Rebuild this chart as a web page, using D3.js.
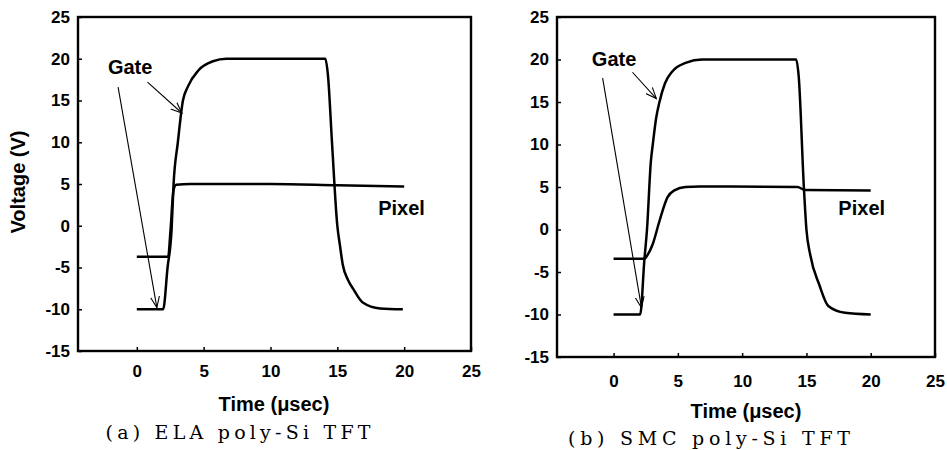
<!DOCTYPE html>
<html>
<head>
<meta charset="utf-8">
<script src="https://cdn.jsdelivr.net/npm/d3@7"></script>
<style>
  body { margin: 0; background: #fff; }
  svg { display: block; }
</style>
</head>
<body>
<svg id="chart" width="947" height="450"></svg>
<script>
// -----------------------------------------------------------------------------
// data: [time (usec), voltage (V)]

var timeTicks = [0, 5, 10, 15, 20, 25];
var voltTicks = [-15, -10, -5, 0, 5, 10, 15, 20, 25];

var elaGate = [
  [0, -10], [1.97, -10], [2.3, -5], [2.6, -0.5], [2.75, 5], [3.07, 10],
  [3.45, 15], [3.8, 16.6], [4.6, 18.6], [5.7, 19.7], [6.7, 20], [14.1, 20],
  [14.3, 18], [14.6, 10], [15.0, 0], [15.2, -2.4], [15.4, -4.6],
  [15.8, -6.5], [16.2, -7.6], [16.9, -9.2], [18.2, -9.9], [19.9, -10]
];
var elaPixel = [
  [0, -3.7], [2.35, -3.7], [2.5, -1], [2.75, 4.3], [2.95, 4.9], [4, 5],
  [10, 5], [15, 4.85], [20, 4.7]
];

var smcGate = [
  [0, -10], [2.07, -10], [2.4, -3.5], [2.6, 0], [2.9, 8], [3.05, 10],
  [3.3, 13], [3.57, 15], [4.0, 17.2], [4.57, 18.6], [5.6, 19.6], [6.9, 20],
  [14.2, 20], [14.4, 18], [14.8, 5], [15.0, 0], [15.3, -3], [16.0, -6.5],
  [16.7, -9], [18.0, -9.8], [20, -10]
];
var smcPixel = [
  [0, -3.45], [2.4, -3.45], [2.6, -3.1], [3.05, -1.7], [3.57, 1.0],
  [4.2, 3.8], [4.73, 4.6], [5.6, 5.0], [6.7, 5.05], [14.3, 5.0],
  [14.9, 4.65], [20, 4.6]
];

// labels and arrows, in data units
var elaLabels = [
  { text: 'Gate', t: -0.5, v: 19.0 },
  { text: 'Pixel', t: 19.8, v: 2.1 }
];
var elaArrows = [
  [[0.8, 17.2], [3.37, 13.5]],
  [[-1.4, 16.6], [1.5, -9.8]]
];
var smcLabels = [
  { text: 'Gate', t: 0.04, v: 20.1 },
  { text: 'Pixel', t: 19.3, v: 2.5 }
];
var smcArrows = [
  [[1.47, 18.5], [3.33, 15.4]],
  [[-0.85, 17.8], [2.17, -9.2]]
];

// -----------------------------------------------------------------------------

var svg = d3.select('#chart');

var defs = svg.append('defs');
defs.append('marker')
  .attr('id', 'arrow-head')
  .attr('viewBox', '0 0 12 10')
  .attr('refX', 11)
  .attr('refY', 5)
  .attr('markerWidth', 12)
  .attr('markerHeight', 10)
  .attr('markerUnits', 'userSpaceOnUse')
  .attr('orient', 'auto')
  .append('path')
  .attr('d', 'M0,0.5 L11,5 L0,9.5')
  .attr('fill', 'none')
  .attr('stroke', '#000')
  .attr('stroke-width', 1.1);

function plainNumber(d) { return String(d); }

function drawPanel(cfg) {
  // - - - - - - - - - - - - - - - - - - - - - - - - - - - - - - - - - - - - -

  var x = d3.scaleLinear().domain([-4.4, 25]).range([cfg.left, cfg.right]);
  var y = d3.scaleLinear().domain([-15, 25]).range([cfg.bottom, cfg.top]);

  var g = svg.append('g');

  // - - - - - - - - - - - - - - - - - - - - - - - - - - - - - - - - - - - - -

  var yAxis = g.append('g')
    .attr('transform', 'translate(' + cfg.left + ',0)')
    .call(d3.axisLeft(y).tickValues(voltTicks).tickFormat(plainNumber)
      .tickSize(-4).tickPadding(8));

  var xAxis = g.append('g')
    .attr('transform', 'translate(0,' + cfg.bottom + ')')
    .call(d3.axisBottom(x).tickValues(timeTicks).tickFormat(plainNumber)
      .tickSize(-4).tickPadding(cfg.xPad));

  [yAxis, xAxis].forEach(function (a) {
    a.select('.domain').remove();
    a.attr('font-family', 'Arial, "Liberation Sans", sans-serif')
      .attr('font-size', 17)
      .attr('font-weight', 'bold');
    a.selectAll('line').attr('stroke-width', 1.5);
  });

  g.append('rect')
    .attr('x', cfg.left)
    .attr('y', cfg.top)
    .attr('width', cfg.right - cfg.left)
    .attr('height', cfg.bottom - cfg.top)
    .attr('fill', 'none')
    .attr('stroke', '#000')
    .attr('stroke-width', 2.4);

  // - - - - - - - - - - - - - - - - - - - - - - - - - - - - - - - - - - - - -

  var line = d3.line()
    .x(function (d) { return x(d[0]); })
    .y(function (d) { return y(d[1]); })
    .curve(d3.curveMonotoneX);

  g.selectAll('path.trace')
    .data([cfg.gate, cfg.pixel])
    .join('path')
    .classed('trace', true)
    .attr('d', line)
    .attr('fill', 'none')
    .attr('stroke', '#000')
    .attr('stroke-width', 2.5)
    .attr('stroke-linejoin', 'round');

  // - - - - - - - - - - - - - - - - - - - - - - - - - - - - - - - - - - - - -

  g.selectAll('line.arrow')
    .data(cfg.arrows)
    .join('line')
    .classed('arrow', true)
    .attr('x1', function (d) { return x(d[0][0]); })
    .attr('y1', function (d) { return y(d[0][1]); })
    .attr('x2', function (d) { return x(d[1][0]); })
    .attr('y2', function (d) { return y(d[1][1]); })
    .attr('stroke', '#000')
    .attr('stroke-width', 1.1)
    .attr('marker-end', 'url(#arrow-head)');

  g.selectAll('text.note')
    .data(cfg.labels)
    .join('text')
    .classed('note', true)
    .attr('x', function (d) { return x(d.t); })
    .attr('y', function (d) { return y(d.v); })
    .attr('text-anchor', 'middle')
    .attr('dominant-baseline', 'central')
    .attr('font-family', 'Arial, "Liberation Sans", sans-serif')
    .attr('font-size', 20)
    .attr('font-weight', 'bold')
    .text(function (d) { return d.text; });

  // - - - - - - - - - - - - - - - - - - - - - - - - - - - - - - - - - - - - -

  g.append('text')
    .attr('x', cfg.titleX)
    .attr('y', cfg.titleY)
    .attr('text-anchor', 'middle')
    .attr('font-family', 'Arial, "Liberation Sans", sans-serif')
    .attr('font-size', 20)
    .attr('font-weight', 'bold')
    .text('Time (\u03bcsec)');

  g.append('text')
    .attr('x', cfg.captionX)
    .attr('y', cfg.captionY)
    .attr('text-anchor', 'middle')
    .attr('font-family', '"DejaVu Serif", "Liberation Serif", serif')
    .attr('font-size', 19)
    .attr('textLength', cfg.captionW)
    .attr('lengthAdjust', 'spacing')
    .text(cfg.caption);
}

// -----------------------------------------------------------------------------

drawPanel({
  left: 78, right: 471, top: 17, bottom: 351, xPad: 14,
  gate: elaGate, pixel: elaPixel, labels: elaLabels, arrows: elaArrows,
  titleX: 274, titleY: 411,
  caption: '(a) ELA poly-Si TFT', captionX: 238, captionY: 439, captionW: 265
});

drawPanel({
  left: 557, right: 935, top: 17, bottom: 357, xPad: 18,
  gate: smcGate, pixel: smcPixel, labels: smcLabels, arrows: smcArrows,
  titleX: 746, titleY: 418,
  caption: '(b) SMC poly-Si TFT', captionX: 709, captionY: 445, captionW: 282
});

svg.append('text')
  .attr('transform', 'translate(25,182) rotate(-90)')
  .attr('text-anchor', 'middle')
  .attr('font-family', 'Arial, "Liberation Sans", sans-serif')
  .attr('font-size', 20)
  .attr('font-weight', 'bold')
  .text('Voltage (V)');

// -----------------------------------------------------------------------------
</script>
</body>
</html>
